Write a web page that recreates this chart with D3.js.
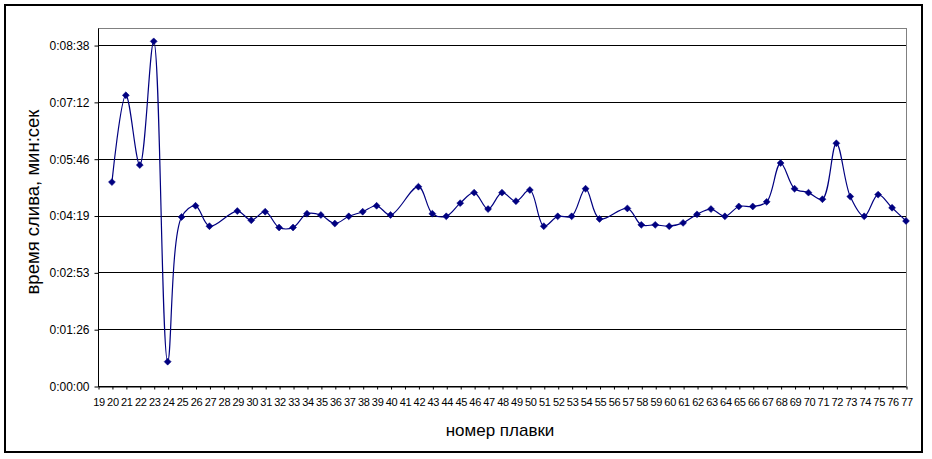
<!DOCTYPE html>
<html>
<head>
<meta charset="utf-8">
<script src="https://cdn.jsdelivr.net/npm/d3@7"></script>
<style>
  html, body { margin: 0; padding: 0; background: #fff; }
  svg { display: block; font-family: "Liberation Sans", Arial, sans-serif; }
</style>
</head>
<body>
<svg id="chart" width="932" height="459"></svg>
<script>
// heat numbers (x) and drain times in seconds (y)
const heats = [20,21,22,23,24,25,26,27,29,30,31,32,33,34,35,36,37,38,39,40,
               42,43,44,45,46,47,48,49,50,51,52,53,54,55,57,58,59,60,
               61,62,63,64,65,66,67,68,69,70,71,72,73,74,75,76,77];
const times = [310,442,336,524,37,257,274,243,266,252,265,241,241,262,260,247,258,265,274,260,
               303,262,258,278,294,269,294,281,298,243,258,258,300,254,270,245,245,243,
               248,261,269,258,273,273,280,339,300,294,284,369,288,258,291,271,251];
const xCategories = d3.range(19, 78);
const yTickValues = [0, 86.4, 172.8, 259.2, 345.6, 432, 518.4];
const yTickLabels = ["0:00:00","0:01:26","0:02:53","0:04:19","0:05:46","0:07:12","0:08:38"];
const yMax = 544.32;

const svg = d3.select("#chart");
const L = 98, R = 906, T = 28, B = 386;
const navy = "#000080";

// outer frame
svg.append("rect").attr("x", 5).attr("y", 5).attr("width", 917).attr("height", 447)
  .attr("fill", "#fff").attr("stroke", "#000").attr("stroke-width", 2);

const x = d3.scaleLinear().domain([19, 77]).range([L, R]);
const y = d3.scaleLinear().domain([0, yMax]).range([B, T]);

// plot area border (gray top/right)
svg.append("path")
  .attr("d", `M${L},${T}H${R}V${B}`)
  .attr("fill", "none").attr("stroke", "#808080").attr("stroke-width", 1)
  .attr("shape-rendering", "crispEdges");

// gridlines
svg.append("g").selectAll("line").data(yTickValues).join("line")
  .attr("x1", L).attr("x2", R)
  .attr("y1", d => Math.round(y(d)) + 0.5).attr("y2", d => Math.round(y(d)) + 0.5)
  .attr("stroke", "#000").attr("stroke-width", 1);

// y axis
const yAxis = d3.axisLeft(y).tickValues(yTickValues)
  .tickFormat((d, i) => yTickLabels[i]).tickSizeInner(4).tickSizeOuter(0).tickPadding(5);
const gy = svg.append("g").attr("transform", `translate(${L + 0.5},0.5)`).call(yAxis);
gy.select(".domain").attr("d", `M0,${T}V${B}`).attr("stroke", "#000");
gy.selectAll(".tick line").attr("stroke", "#000");
gy.selectAll("text").attr("font-size", 12).attr("fill", "#000")
  .attr("font-family", "Liberation Sans, Arial, sans-serif");

// x axis
const xAxis = d3.axisBottom(x).tickValues(xCategories).tickFormat(d3.format("d"))
  .tickSizeInner(3).tickSizeOuter(0).tickPadding(9);
const gx = svg.append("g").attr("transform", `translate(0.5,${B + 0.5})`).call(xAxis);
gx.select(".domain").attr("stroke", "#000");
gx.selectAll(".tick line").attr("stroke", "#000");
gx.selectAll("text").attr("font-size", 11).attr("fill", "#000")
  .attr("letter-spacing", "-0.3px")
  .attr("font-family", "Liberation Sans, Arial, sans-serif");

// series
const data = heats.map((h, i) => ({ h, t: times[i] }));
const line = d3.line().x(d => x(d.h)).y(d => y(d.t)).curve(d3.curveCatmullRom.alpha(0.5));
svg.append("path").datum(data).attr("d", line)
  .attr("fill", "none").attr("stroke", navy).attr("stroke-width", 1.2);

const marker = d3.symbol().type(d3.symbolSquare).size(24);
svg.append("g").selectAll("path").data(data).join("path")
  .attr("d", marker)
  .attr("transform", d => `translate(${x(d.h)},${y(d.t)}) rotate(45)`)
  .attr("fill", navy).attr("stroke", navy).attr("stroke-width", 0.5);

// axis titles
svg.append("text").attr("x", 500).attr("y", 436).attr("text-anchor", "middle")
  .attr("font-size", 17).attr("fill", "#000").text("номер плавки");
svg.append("text").attr("transform", "translate(39,202) rotate(-90)")
  .attr("text-anchor", "middle").attr("font-size", 18.5).attr("fill", "#000")
  .text("время слива, мин:сек");
</script>
</body>
</html>
